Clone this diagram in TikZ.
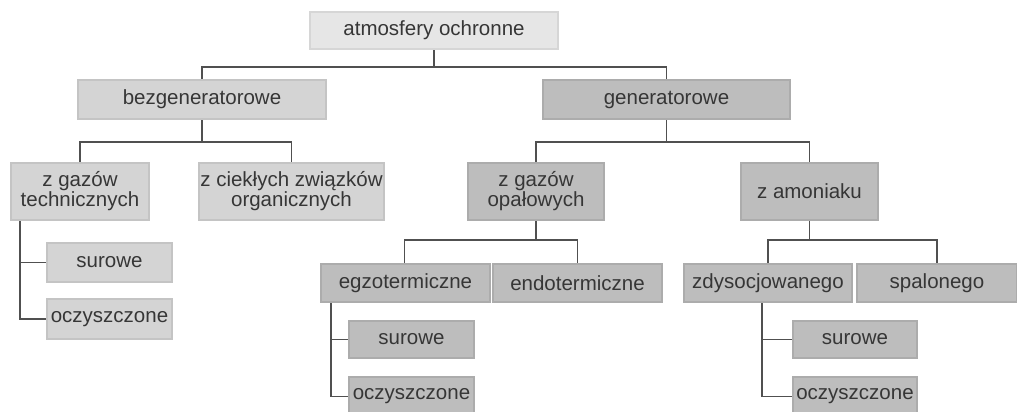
\documentclass[tikz,border=0pt]{standalone}
\usepackage{fontspec}
\setmainfont{Liberation Sans}
\usepackage{xcolor}
\usepackage{tikz}
\usetikzlibrary{positioning, calc}

\definecolor{boxlight}{HTML}{E6E6E6}
\definecolor{edgelight}{HTML}{D6D6D6}
\definecolor{boxmid}{HTML}{D4D4D4}
\definecolor{edgemid}{HTML}{C4C4C4}
\definecolor{boxdark}{HTML}{BDBDBD}
\definecolor{edgedark}{HTML}{ACACAC}
\definecolor{linkgray}{HTML}{505050}
\definecolor{textgray}{HTML}{363636}

\begin{document}
\begin{tikzpicture}[x=1bp, y={(0,-1bp)},
    entity/.style={rectangle, inner sep=0pt, line width=2bp, align=center, text=textgray,
        font=\fontsize{20.5bp}{17bp}\selectfont, minimum height=39bp},
    lightbox/.style={entity, fill=boxlight, draw=edgelight},
    midbox/.style={entity, fill=boxmid, draw=edgemid},
    darkbox/.style={entity, fill=boxdark, draw=edgedark},
    link/.style={line width=1.5bp, draw=linkgray}]

\useasboundingbox (0,0) rectangle (1017,411);

\node (atm) [lightbox, minimum width=248bp, minimum height=37bp] at (434,30.5) {atmosfery ochronne};
\node (bez) [midbox, minimum width=248bp] at (202,99.5) {bezgeneratorowe};
\node (gen) [darkbox, minimum width=247bp] at (666.5,99.5) {generatorowe};

\node (zgt) [midbox, minimum width=138bp, minimum height=57bp] at (80,191.5) {z gazów\\technicznych};
\node (zco) [midbox, minimum width=185bp, minimum height=57bp] at (291.5,191.5) {z ciekłych związków\\organicznych};
\node (zgo) [darkbox, minimum width=136bp, minimum height=57bp] at (536,191.5) {z gazów\\opałowych};
\node (zam) [darkbox, minimum width=137bp, minimum height=57bp] at (809.5,191.5) {z amoniaku};

\node (surL) [midbox, minimum width=125bp] at (109.5,262.5) {surowe};
\node (oczL) [midbox, minimum width=125bp, minimum height=40bp] at (109.5,319) {oczyszczone};

\node (egzo) [darkbox, minimum width=169bp, minimum height=38bp] at (405.5,283) {egzotermiczne};
\node (endo) [darkbox, minimum width=169bp, minimum height=38bp] at (577.5,283) {endotermiczne};
\node (zdys) [darkbox, minimum width=168bp, minimum height=38bp] at (768,283) {zdysocjowanego};
\node (spal) [darkbox, minimum width=160bp, minimum height=38bp] at (937,283) {spalonego};

\node (surM) [darkbox, minimum width=125bp, minimum height=37bp] at (411.5,339.5) {surowe};
\node (oczM) [darkbox, minimum width=125bp] at (411.5,396.5) {oczyszczone};
\node (surR) [darkbox, minimum width=124bp, minimum height=37bp] at (855,339.5) {surowe};
\node (oczR) [darkbox, minimum width=124bp] at (855,396.5) {oczyszczone};

% tree links
\draw [link] (atm.south) -- ++(0,17) -| (bez.north);
\draw [link] (atm.south) -- ++(0,17) -| (gen.north);
\draw [link] (bez.south) -- ++(0,22) -| (zgt.north);
\draw [link] (bez.south) -- ++(0,22) -| (zco.north);
\draw [link] (gen.south) -- ++(0,22) -| (zgo.north);
\draw [link] (gen.south) -- ++(0,22) -| (zam.north);
\draw [link] (zgo.south) -- ++(0,19) -| ([xshift=-1bp]egzo.north);
\draw [link] (zgo.south) -- ++(0,19) -| (endo.north);
\draw [link] (zam.south) -- ++(0,19) -| (zdys.north);
\draw [link] (zam.south) -- ++(0,19) -| (spal.north);

% side links
\draw [link] ([xshift=10bp]zgt.south west) |- (surL.west);
\draw [link] ([xshift=10bp]zgt.south west) |- (oczL.west);
\draw [link] ([xshift=11bp]egzo.south west) |- (surM.west);
\draw [link] ([xshift=11bp]egzo.south west) |- (oczM.west);
\draw [link] ([xshift=-6bp]zdys.south) |- (surR.west);
\draw [link] ([xshift=-6bp]zdys.south) |- (oczR.west);

\end{tikzpicture}
\end{document}
